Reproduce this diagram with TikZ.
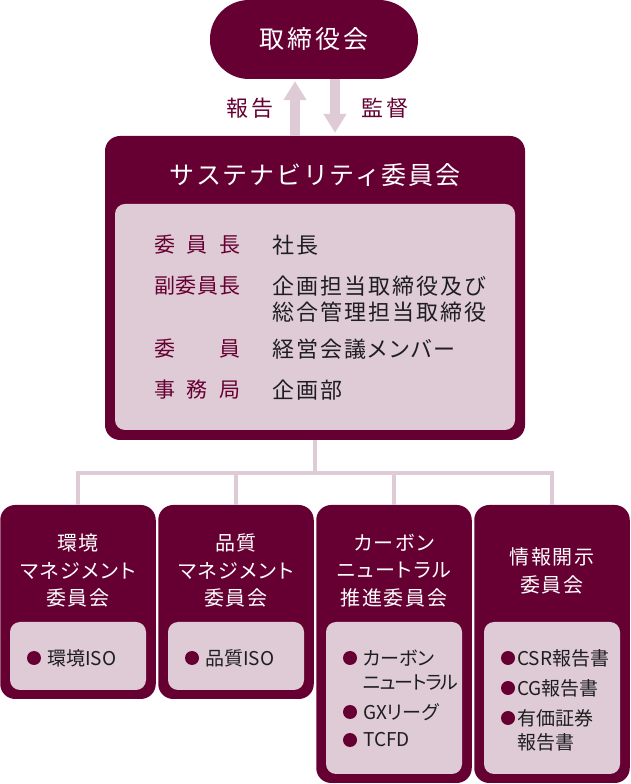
\documentclass[tikz,border=0pt]{standalone}
\usepackage{fontspec}
\setmainfont{Noto Sans CJK JP}
\newfontfamily\jpTop[LetterSpace=11]{Noto Sans CJK JP}
\newfontfamily\jpTitle[LetterSpace=7]{Noto Sans CJK JP}
\newfontfamily\jpVal[LetterSpace=9,RawFeature=+palt]{Noto Sans CJK JP}
\newfontfamily\jpLab[LetterSpace=14]{Noto Sans CJK JP}
\newfontfamily\jpSub[LetterSpace=8,RawFeature=+palt]{Noto Sans CJK JP}
\newfontfamily\jpItem[RawFeature=+palt]{Noto Sans CJK JP}
\newfontfamily\jpItemN[LetterSpace=-6,RawFeature=+palt]{Noto Sans CJK JP}
\usetikzlibrary{arrows.meta}
\definecolor{dk}{RGB}{102,0,51}
\definecolor{lt}{RGB}{223,203,214}
\definecolor{tx}{RGB}{30,30,30}
\begin{document}
\begin{tikzpicture}[x=1pt,y=1pt,
  darkbox/.style={fill=dk, draw=none, rounded corners=15pt, inner sep=0pt},
  lightbox/.style={fill=lt, draw=none, rounded corners=10pt, inner sep=0pt},
  conn/.style={draw=lt, line width=4pt},
  arrw/.style={draw=lt, line width=9.5pt, -{Triangle[width=22pt,length=19pt]}},
  sidelab/.style={text=dk, inner sep=0pt, font=\jpLab\fontsize{22pt}{26pt}\selectfont},
  rowlab/.style={text=dk, inner sep=0pt, anchor=west, font=\fontsize{21pt}{26pt}\selectfont},
  rowval/.style={text=tx, inner sep=0pt, anchor=west, align=left, font=\jpVal\fontsize{22pt}{26pt}\selectfont},
  subtitle/.style={text=white, inner sep=0pt, align=center, font=\jpSub\fontsize{20pt}{27.5pt}\selectfont},
  bullet/.style={circle, fill=dk, draw=none, minimum size=14pt, inner sep=0pt},
  item/.style={text=tx, inner sep=0pt, anchor=west, align=left, font=\jpItem\fontsize{19pt}{24pt}\selectfont}
]
\useasboundingbox (0,0) rectangle (630,784);

% top board
\node[darkbox, rounded corners=39pt, minimum width=208pt, minimum height=79pt,
      text=white, font=\jpTop\fontsize{25pt}{30pt}\selectfont] (top) at (314,744.5) {取締役会};

% sustainability committee
\node[darkbox, minimum width=420pt, minimum height=304pt] (main) at (315,496) {};
\node[text=white, inner sep=0pt, font=\jpTitle\fontsize{25pt}{30pt}\selectfont] (mtitle) at (315,609) {サステナビリティ委員会};
\node[lightbox, minimum width=400pt, minimum height=226pt] (minner) at (315,467) {};

% arrows
\draw[arrw, shorten >=2pt] ([xshift=-20pt]main.north) -- ([xshift=-19pt]top.south);
\draw[arrw, shorten >=3pt] ([xshift=21pt]top.south) -- ([xshift=20pt]main.north);
\node[sidelab] (rep) at (250,676) {報告};
\node[sidelab] (sup) at (385,676) {監督};

% rows
\node[rowlab] (l1) at (154,539) {\makebox[86pt][s]{委\hfill 員\hfill 長}};
\node[rowval] (v1) at (272,539) {社長};
\node[rowlab] (l2) at (154,498) {\makebox[86pt][s]{副\hfill 委\hfill 員\hfill 長}};
\node[rowval] (v2) at (272,485) {企画担当取締役及び\\総合管理担当取締役};
\node[rowlab] (l3) at (154,435) {\makebox[86pt][s]{委\hfill 員}};
\node[rowval] (v3) at (272,435) {経営会議メンバー};
\node[rowlab] (l4) at (154,394) {\makebox[86pt][s]{事\hfill 務\hfill 局}};
\node[rowval] (v4) at (272,394) {企画部};

% sub committees
\node[darkbox, minimum width=155.5pt, minimum height=194pt] (b1) at (78,182) {};
\node[darkbox, minimum width=155.5pt, minimum height=194pt] (b2) at (236,182) {};
\node[darkbox, minimum width=155.5pt, minimum height=278pt] (b3) at (394,140) {};
\node[darkbox, minimum width=155.5pt, minimum height=278pt] (b4) at (552,140) {};

\node[subtitle] (t1) at (78,213.5) {環境\\マネジメント\\委員会};
\node[subtitle] (t2) at (236,213.5) {品質\\マネジメント\\委員会};
\node[subtitle] (t3) at (394,213.5) {カーボン\\ニュートラル\\推進委員会};
\node[subtitle] (t4) at (552,213) {情報開示\\委員会};

\node[lightbox, minimum width=136pt, minimum height=68pt] (i1) at (78,128) {};
\node[lightbox, minimum width=136pt, minimum height=68pt] (i2) at (236,128) {};
\node[lightbox, minimum width=136pt, minimum height=152pt] (i3) at (394,86) {};
\node[lightbox, minimum width=136pt, minimum height=152pt] (i4) at (552,86) {};

% items
\node[bullet] (d11) at (34,126) {};
\node[item] (e11) at (47,126) {環境ISO};
\node[bullet] (d21) at (192,126) {};
\node[item] (e21) at (205,126) {品質ISO};

\node[bullet] (d31) at (350,126) {};
\node[item] (e31) at (363,114) {カーボン\\{\jpItemN ニュートラル}};
\node[bullet] (d32) at (350,72) {};
\node[item] (e32) at (363,72) {GXリーグ};
\node[bullet] (d33) at (350,44) {};
\node[item] (e33) at (363,44) {TCFD};

\node[bullet] (d41) at (508,126) {};
\node[item] (e41) at (517,126) {CSR報告書};
\node[bullet] (d42) at (508,96) {};
\node[item] (e42) at (517,96) {CG報告書};
\node[bullet] (d43) at (508,66) {};
\node[item] (e43) at (517,54) {有価証券\\報告書};

% connectors
\coordinate (j) at (315,311.3);
\draw[conn] (main.south) -- (j);
\draw[conn] (b1.north) |- (j) -| (b4.north);
\draw[conn] (b2.north) -- (b2.north |- j);
\draw[conn] (b3.north) -- (b3.north |- j);
\end{tikzpicture}
\end{document}
